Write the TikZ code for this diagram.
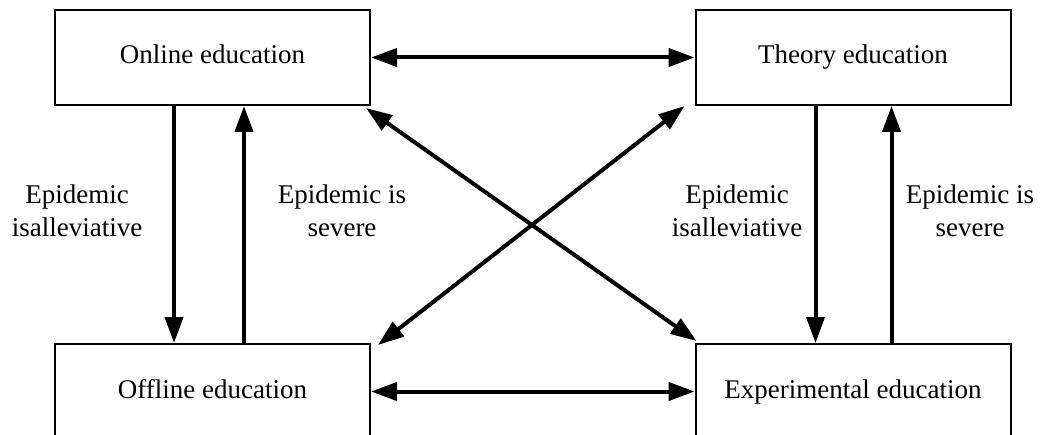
\documentclass[tikz,border=0pt]{standalone}
\usepackage{fontspec}
\setmainfont{Liberation Serif}
\usetikzlibrary{arrows.meta,calc}
\tikzset{
  box/.style={draw, line width=2pt, minimum width=315pt, minimum height=95pt, inner sep=0pt, text height=19pt, text depth=6pt, font=\fontsize{27}{33}\selectfont},
  lbl/.style={align=center, inner sep=0pt, font=\fontsize{27}{33}\selectfont},
  arr/.style={line width=4pt, -{Triangle[length=26pt,width=18pt]}},
  darr/.style={line width=4pt, {Triangle[length=26pt,width=18pt]}-{Triangle[length=26pt,width=18pt]}}
}
\begin{document}
\begin{tikzpicture}[x=1pt,y=1pt]
\useasboundingbox (0,0) rectangle (1046,434);
\begin{scope}
\clip (-5,0) rectangle (1050,440);
\node[box] (on) at (212.5,376.5) {Online education};
\node[box] (th) at (853,376.5) {Theory education};
\node[box] (of) at (212.5,42.5) {Offline education};
\node[box] (ex) at (853,42.5) {Experimental education};
\end{scope}
\draw[darr] (on.east) -- (th.west);
\draw[darr] (of.east) -- (ex.west);
\draw[arr] ($(on.south west)+(120,0)$) -- ($(of.north west)+(120,0)$);
\draw[arr] ($(of.north west)+(190,0)$) -- ($(on.south west)+(190,0)$);
\draw[arr] ($(th.south west)+(121,0)$) -- ($(ex.north west)+(121,0)$);
\draw[arr] ($(ex.north west)+(197,0)$) -- ($(th.south west)+(197,0)$);
\draw[darr] ($(on.south east)+(-5,-2)$) -- ($(ex.north west)+(2,2)$);
\draw[darr] ($(th.south west)+(-10,0)$) -- ($(of.north east)+(7,-2)$);
\node[lbl] (l1) at (77,223) {Epidemic\\isalleviative};
\node[lbl] (l2) at (342,223) {Epidemic is\\severe};
\node[lbl] (l3) at (737,223) {Epidemic\\isalleviative};
\node[lbl] (l4) at (970,223) {Epidemic is\\severe};
\end{tikzpicture}
\end{document}
